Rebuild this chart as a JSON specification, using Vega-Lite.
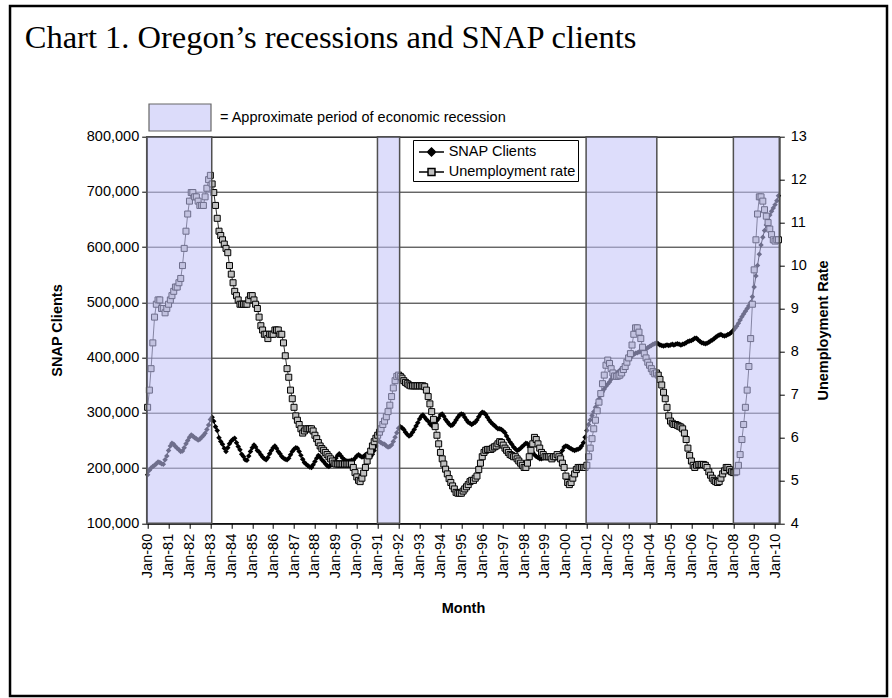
{
"$schema": "https://vega.github.io/schema/vega-lite/v6.json",
"width": 632.6,
"height": 386.6,
"autosize": {"type": "none"},
"padding": {"left": 146.7, "top": 136.7, "right": 112.7, "bottom": 174.7},
"background": "white",
"title": {"text": "Chart 1. Oregon’s recessions and SNAP clients", "font": "Liberation Serif", "fontSize": 32.5, "fontWeight": "normal", "color": "black", "anchor": "start", "frame": "group", "dx": -122, "dy": 50, "offset": 0},
"datasets": {
"m": [
{"d":"1980-01","s":188000,"u":6.7},{"d":"1980-02","s":196000,"u":7.1},{"d":"1980-03","s":200000,"u":7.6},{"d":"1980-04","s":203000,"u":8.2},{"d":"1980-05","s":205000,"u":8.8},{"d":"1980-06","s":208000,"u":9.1},{"d":"1980-07","s":211000,"u":9.2},{"d":"1980-08","s":210000,"u":9.2},{"d":"1980-09","s":208000,"u":9.0},{"d":"1980-10","s":207000,"u":9.0},{"d":"1980-11","s":215000,"u":8.9},{"d":"1980-12","s":222000,"u":9.0},
{"d":"1981-01","s":232000,"u":9.1},{"d":"1981-02","s":240000,"u":9.2},{"d":"1981-03","s":245000,"u":9.3},{"d":"1981-04","s":243000,"u":9.4},{"d":"1981-05","s":239000,"u":9.5},{"d":"1981-06","s":236000,"u":9.5},{"d":"1981-07","s":233000,"u":9.6},{"d":"1981-08","s":230000,"u":9.7},{"d":"1981-09","s":231000,"u":10.0},{"d":"1981-10","s":237000,"u":10.4},{"d":"1981-11","s":244000,"u":10.8},{"d":"1981-12","s":250000,"u":11.2},
{"d":"1982-01","s":256000,"u":11.5},{"d":"1982-02","s":260000,"u":11.7},{"d":"1982-03","s":258000,"u":11.7},{"d":"1982-04","s":255000,"u":11.6},{"d":"1982-05","s":253000,"u":11.6},{"d":"1982-06","s":251000,"u":11.5},{"d":"1982-07","s":252000,"u":11.4},{"d":"1982-08","s":256000,"u":11.4},{"d":"1982-09","s":259000,"u":11.4},{"d":"1982-10","s":263000,"u":11.6},{"d":"1982-11","s":270000,"u":11.8},{"d":"1982-12","s":278000,"u":12.0},
{"d":"1983-01","s":288000,"u":12.1},{"d":"1983-02","s":292000,"u":11.9},{"d":"1983-03","s":285000,"u":11.7},{"d":"1983-04","s":275000,"u":11.4},{"d":"1983-05","s":268000,"u":11.1},{"d":"1983-06","s":255000,"u":10.8},{"d":"1983-07","s":248000,"u":10.7},{"d":"1983-08","s":243000,"u":10.6},{"d":"1983-09","s":236000,"u":10.5},{"d":"1983-10","s":230000,"u":10.4},{"d":"1983-11","s":237000,"u":10.3},{"d":"1983-12","s":244000,"u":10.0},
{"d":"1984-01","s":249000,"u":9.8},{"d":"1984-02","s":252000,"u":9.6},{"d":"1984-03","s":254000,"u":9.4},{"d":"1984-04","s":246000,"u":9.3},{"d":"1984-05","s":239000,"u":9.2},{"d":"1984-06","s":233000,"u":9.1},{"d":"1984-07","s":225000,"u":9.1},{"d":"1984-08","s":221000,"u":9.1},{"d":"1984-09","s":215000,"u":9.1},{"d":"1984-10","s":214000,"u":9.1},{"d":"1984-11","s":222000,"u":9.2},{"d":"1984-12","s":230000,"u":9.3},
{"d":"1985-01","s":237000,"u":9.3},{"d":"1985-02","s":242000,"u":9.2},{"d":"1985-03","s":238000,"u":9.1},{"d":"1985-04","s":232000,"u":9.0},{"d":"1985-05","s":229000,"u":8.8},{"d":"1985-06","s":224000,"u":8.6},{"d":"1985-07","s":220000,"u":8.5},{"d":"1985-08","s":217000,"u":8.4},{"d":"1985-09","s":215000,"u":8.4},{"d":"1985-10","s":219000,"u":8.3},{"d":"1985-11","s":226000,"u":8.4},{"d":"1985-12","s":232000,"u":8.4},
{"d":"1986-01","s":237000,"u":8.4},{"d":"1986-02","s":240000,"u":8.5},{"d":"1986-03","s":236000,"u":8.5},{"d":"1986-04","s":230000,"u":8.5},{"d":"1986-05","s":226000,"u":8.4},{"d":"1986-06","s":221000,"u":8.4},{"d":"1986-07","s":218000,"u":8.2},{"d":"1986-08","s":216000,"u":7.9},{"d":"1986-09","s":215000,"u":7.6},{"d":"1986-10","s":218000,"u":7.4},{"d":"1986-11","s":224000,"u":7.1},{"d":"1986-12","s":230000,"u":6.9},
{"d":"1987-01","s":234000,"u":6.7},{"d":"1987-02","s":237000,"u":6.5},{"d":"1987-03","s":236000,"u":6.4},{"d":"1987-04","s":230000,"u":6.3},{"d":"1987-05","s":223000,"u":6.2},{"d":"1987-06","s":216000,"u":6.1},{"d":"1987-07","s":210000,"u":6.15},{"d":"1987-08","s":207000,"u":6.2},{"d":"1987-09","s":204000,"u":6.2},{"d":"1987-10","s":202000,"u":6.2},{"d":"1987-11","s":201000,"u":6.2},{"d":"1987-12","s":206000,"u":6.15},
{"d":"1988-01","s":212000,"u":6.05},{"d":"1988-02","s":218000,"u":5.97},{"d":"1988-03","s":223000,"u":5.88},{"d":"1988-04","s":220000,"u":5.8},{"d":"1988-05","s":215000,"u":5.74},{"d":"1988-06","s":212000,"u":5.7},{"d":"1988-07","s":208000,"u":5.65},{"d":"1988-08","s":204000,"u":5.6},{"d":"1988-09","s":203000,"u":5.55},{"d":"1988-10","s":205000,"u":5.5},{"d":"1988-11","s":207000,"u":5.45},{"d":"1988-12","s":212000,"u":5.4},
{"d":"1989-01","s":218000,"u":5.38},{"d":"1989-02","s":223000,"u":5.38},{"d":"1989-03","s":226000,"u":5.38},{"d":"1989-04","s":222000,"u":5.38},{"d":"1989-05","s":218000,"u":5.38},{"d":"1989-06","s":215000,"u":5.38},{"d":"1989-07","s":213000,"u":5.38},{"d":"1989-08","s":213000,"u":5.38},{"d":"1989-09","s":213000,"u":5.38},{"d":"1989-10","s":214000,"u":5.38},{"d":"1989-11","s":214000,"u":5.3},{"d":"1989-12","s":218000,"u":5.18},
{"d":"1990-01","s":222000,"u":5.08},{"d":"1990-02","s":224000,"u":5.0},{"d":"1990-03","s":222000,"u":4.97},{"d":"1990-04","s":220000,"u":5.05},{"d":"1990-05","s":221000,"u":5.17},{"d":"1990-06","s":224000,"u":5.3},{"d":"1990-07","s":226000,"u":5.45},{"d":"1990-08","s":224000,"u":5.57},{"d":"1990-09","s":221000,"u":5.68},{"d":"1990-10","s":225000,"u":5.8},{"d":"1990-11","s":232000,"u":5.9},{"d":"1990-12","s":240000,"u":5.98},
{"d":"1991-01","s":249000,"u":6.05},{"d":"1991-02","s":248000,"u":6.12},{"d":"1991-03","s":246000,"u":6.2},{"d":"1991-04","s":244000,"u":6.3},{"d":"1991-05","s":243000,"u":6.38},{"d":"1991-06","s":240000,"u":6.48},{"d":"1991-07","s":238000,"u":6.6},{"d":"1991-08","s":239000,"u":6.75},{"d":"1991-09","s":242000,"u":6.95},{"d":"1991-10","s":248000,"u":7.15},{"d":"1991-11","s":256000,"u":7.32},{"d":"1991-12","s":264000,"u":7.42},
{"d":"1992-01","s":272000,"u":7.45},{"d":"1992-02","s":275000,"u":7.42},{"d":"1992-03","s":273000,"u":7.38},{"d":"1992-04","s":270000,"u":7.32},{"d":"1992-05","s":265000,"u":7.28},{"d":"1992-06","s":261000,"u":7.25},{"d":"1992-07","s":258000,"u":7.22},{"d":"1992-08","s":260000,"u":7.2},{"d":"1992-09","s":265000,"u":7.2},{"d":"1992-10","s":270000,"u":7.2},{"d":"1992-11","s":276000,"u":7.2},{"d":"1992-12","s":282000,"u":7.2},
{"d":"1993-01","s":289000,"u":7.2},{"d":"1993-02","s":294000,"u":7.2},{"d":"1993-03","s":296000,"u":7.2},{"d":"1993-04","s":292000,"u":7.18},{"d":"1993-05","s":288000,"u":7.1},{"d":"1993-06","s":285000,"u":6.95},{"d":"1993-07","s":280000,"u":6.78},{"d":"1993-08","s":277000,"u":6.6},{"d":"1993-09","s":278000,"u":6.42},{"d":"1993-10","s":282000,"u":6.25},{"d":"1993-11","s":286000,"u":6.05},{"d":"1993-12","s":290000,"u":5.85},
{"d":"1994-01","s":296000,"u":5.65},{"d":"1994-02","s":298000,"u":5.5},{"d":"1994-03","s":294000,"u":5.38},{"d":"1994-04","s":288000,"u":5.26},{"d":"1994-05","s":284000,"u":5.15},{"d":"1994-06","s":280000,"u":5.04},{"d":"1994-07","s":277000,"u":4.95},{"d":"1994-08","s":278000,"u":4.87},{"d":"1994-09","s":282000,"u":4.8},{"d":"1994-10","s":287000,"u":4.72},{"d":"1994-11","s":292000,"u":4.7},{"d":"1994-12","s":296000,"u":4.7},
{"d":"1995-01","s":298000,"u":4.7},{"d":"1995-02","s":297000,"u":4.75},{"d":"1995-03","s":292000,"u":4.8},{"d":"1995-04","s":287000,"u":4.85},{"d":"1995-05","s":283000,"u":4.9},{"d":"1995-06","s":281000,"u":4.97},{"d":"1995-07","s":279000,"u":5.0},{"d":"1995-08","s":281000,"u":5.0},{"d":"1995-09","s":283000,"u":5.05},{"d":"1995-10","s":287000,"u":5.1},{"d":"1995-11","s":293000,"u":5.25},{"d":"1995-12","s":298000,"u":5.4},
{"d":"1996-01","s":301000,"u":5.55},{"d":"1996-02","s":300000,"u":5.65},{"d":"1996-03","s":297000,"u":5.7},{"d":"1996-04","s":292000,"u":5.72},{"d":"1996-05","s":287000,"u":5.72},{"d":"1996-06","s":283000,"u":5.72},{"d":"1996-07","s":280000,"u":5.75},{"d":"1996-08","s":277000,"u":5.78},{"d":"1996-09","s":274000,"u":5.8},{"d":"1996-10","s":271000,"u":5.85},{"d":"1996-11","s":271000,"u":5.9},{"d":"1996-12","s":270000,"u":5.88},
{"d":"1997-01","s":267000,"u":5.82},{"d":"1997-02","s":264000,"u":5.75},{"d":"1997-03","s":258000,"u":5.7},{"d":"1997-04","s":252000,"u":5.65},{"d":"1997-05","s":247000,"u":5.6},{"d":"1997-06","s":243000,"u":5.58},{"d":"1997-07","s":238000,"u":5.55},{"d":"1997-08","s":235000,"u":5.55},{"d":"1997-09","s":232000,"u":5.5},{"d":"1997-10","s":233000,"u":5.45},{"d":"1997-11","s":236000,"u":5.4},{"d":"1997-12","s":239000,"u":5.35},
{"d":"1998-01","s":242000,"u":5.3},{"d":"1998-02","s":245000,"u":5.3},{"d":"1998-03","s":244000,"u":5.4},{"d":"1998-04","s":238000,"u":5.55},{"d":"1998-05","s":233000,"u":5.7},{"d":"1998-06","s":228000,"u":5.85},{"d":"1998-07","s":224000,"u":6.0},{"d":"1998-08","s":221000,"u":5.95},{"d":"1998-09","s":219000,"u":5.85},{"d":"1998-10","s":217000,"u":5.75},{"d":"1998-11","s":217000,"u":5.65},{"d":"1998-12","s":218000,"u":5.6},
{"d":"1999-01","s":219000,"u":5.55},{"d":"1999-02","s":221000,"u":5.55},{"d":"1999-03","s":222000,"u":5.55},{"d":"1999-04","s":220000,"u":5.55},{"d":"1999-05","s":218000,"u":5.5},{"d":"1999-06","s":217000,"u":5.55},{"d":"1999-07","s":218000,"u":5.55},{"d":"1999-08","s":220000,"u":5.6},{"d":"1999-09","s":222000,"u":5.55},{"d":"1999-10","s":225000,"u":5.5},{"d":"1999-11","s":232000,"u":5.4},{"d":"1999-12","s":238000,"u":5.3},
{"d":"2000-01","s":240000,"u":5.1},{"d":"2000-02","s":239000,"u":4.95},{"d":"2000-03","s":237000,"u":4.9},{"d":"2000-04","s":235000,"u":4.95},{"d":"2000-05","s":233000,"u":5.05},{"d":"2000-06","s":232000,"u":5.15},{"d":"2000-07","s":233000,"u":5.25},{"d":"2000-08","s":234000,"u":5.3},{"d":"2000-09","s":236000,"u":5.3},{"d":"2000-10","s":240000,"u":5.3},{"d":"2000-11","s":246000,"u":5.3},{"d":"2000-12","s":256000,"u":5.3},
{"d":"2001-01","s":268000,"u":5.35},{"d":"2001-02","s":279000,"u":5.55},{"d":"2001-03","s":287000,"u":5.75},{"d":"2001-04","s":295000,"u":5.97},{"d":"2001-05","s":302000,"u":6.2},{"d":"2001-06","s":310000,"u":6.4},{"d":"2001-07","s":317000,"u":6.62},{"d":"2001-08","s":325000,"u":6.82},{"d":"2001-09","s":332000,"u":7.02},{"d":"2001-10","s":338000,"u":7.25},{"d":"2001-11","s":343000,"u":7.45},{"d":"2001-12","s":348000,"u":7.68},
{"d":"2002-01","s":352000,"u":7.8},{"d":"2002-02","s":356000,"u":7.72},{"d":"2002-03","s":361000,"u":7.6},{"d":"2002-04","s":366000,"u":7.5},{"d":"2002-05","s":369000,"u":7.43},{"d":"2002-06","s":372000,"u":7.42},{"d":"2002-07","s":374000,"u":7.43},{"d":"2002-08","s":377000,"u":7.45},{"d":"2002-09","s":380000,"u":7.5},{"d":"2002-10","s":383000,"u":7.58},{"d":"2002-11","s":387000,"u":7.65},{"d":"2002-12","s":391000,"u":7.75},
{"d":"2003-01","s":396000,"u":7.85},{"d":"2003-02","s":400000,"u":7.95},{"d":"2003-03","s":403000,"u":8.15},{"d":"2003-04","s":406000,"u":8.4},{"d":"2003-05","s":408000,"u":8.55},{"d":"2003-06","s":409000,"u":8.55},{"d":"2003-07","s":410000,"u":8.45},{"d":"2003-08","s":411000,"u":8.3},{"d":"2003-09","s":412000,"u":8.1},{"d":"2003-10","s":414000,"u":7.95},{"d":"2003-11","s":416000,"u":7.85},{"d":"2003-12","s":418000,"u":7.75},
{"d":"2004-01","s":420000,"u":7.68},{"d":"2004-02","s":422000,"u":7.6},{"d":"2004-03","s":424000,"u":7.53},{"d":"2004-04","s":425000,"u":7.48},{"d":"2004-05","s":427000,"u":7.5},{"d":"2004-06","s":425000,"u":7.45},{"d":"2004-07","s":423000,"u":7.35},{"d":"2004-08","s":422000,"u":7.22},{"d":"2004-09","s":421000,"u":7.05},{"d":"2004-10","s":422000,"u":6.9},{"d":"2004-11","s":423000,"u":6.7},{"d":"2004-12","s":422000,"u":6.5},
{"d":"2005-01","s":423000,"u":6.38},{"d":"2005-02","s":424000,"u":6.33},{"d":"2005-03","s":423000,"u":6.3},{"d":"2005-04","s":424000,"u":6.3},{"d":"2005-05","s":425000,"u":6.28},{"d":"2005-06","s":424000,"u":6.26},{"d":"2005-07","s":423000,"u":6.24},{"d":"2005-08","s":424000,"u":6.2},{"d":"2005-09","s":425000,"u":6.1},{"d":"2005-10","s":427000,"u":5.95},{"d":"2005-11","s":429000,"u":5.75},{"d":"2005-12","s":430000,"u":5.58},
{"d":"2006-01","s":431000,"u":5.45},{"d":"2006-02","s":433000,"u":5.35},{"d":"2006-03","s":435000,"u":5.3},{"d":"2006-04","s":435000,"u":5.35},{"d":"2006-05","s":432000,"u":5.37},{"d":"2006-06","s":429000,"u":5.37},{"d":"2006-07","s":427000,"u":5.37},{"d":"2006-08","s":426000,"u":5.37},{"d":"2006-09","s":425000,"u":5.35},{"d":"2006-10","s":426000,"u":5.3},{"d":"2006-11","s":428000,"u":5.2},{"d":"2006-12","s":430000,"u":5.12},
{"d":"2007-01","s":432000,"u":5.05},{"d":"2007-02","s":434000,"u":5.0},{"d":"2007-03","s":437000,"u":4.97},{"d":"2007-04","s":439000,"u":4.95},{"d":"2007-05","s":441000,"u":4.97},{"d":"2007-06","s":442000,"u":5.05},{"d":"2007-07","s":440000,"u":5.15},{"d":"2007-08","s":439000,"u":5.22},{"d":"2007-09","s":440000,"u":5.3},{"d":"2007-10","s":442000,"u":5.3},{"d":"2007-11","s":443000,"u":5.25},{"d":"2007-12","s":446000,"u":5.2},
{"d":"2008-01","s":449000,"u":5.18},{"d":"2008-02","s":453000,"u":5.18},{"d":"2008-03","s":457000,"u":5.2},{"d":"2008-04","s":462000,"u":5.35},{"d":"2008-05","s":468000,"u":5.6},{"d":"2008-06","s":474000,"u":5.95},{"d":"2008-07","s":479000,"u":6.3},{"d":"2008-08","s":484000,"u":6.7},{"d":"2008-09","s":489000,"u":7.1},{"d":"2008-10","s":494000,"u":7.65},{"d":"2008-11","s":500000,"u":8.3},{"d":"2008-12","s":510000,"u":9.1},
{"d":"2009-01","s":528000,"u":9.9},{"d":"2009-02","s":548000,"u":10.6},{"d":"2009-03","s":567000,"u":11.2},{"d":"2009-04","s":587000,"u":11.6},{"d":"2009-05","s":604000,"u":11.6},{"d":"2009-06","s":618000,"u":11.5},{"d":"2009-07","s":630000,"u":11.3},{"d":"2009-08","s":640000,"u":11.15},{"d":"2009-09","s":650000,"u":11.0},{"d":"2009-10","s":658000,"u":10.85},{"d":"2009-11","s":665000,"u":10.72},{"d":"2009-12","s":671000,"u":10.6},
{"d":"2010-01","s":677000,"u":10.57},{"d":"2010-02","s":684000,"u":10.6},{"d":"2010-03","s":693000,"u":10.6}
],
"bands": [
{"start":"1979-12-16","end":"1983-01-25"},
{"start":"1990-12-28","end":"1992-01-19"},
{"start":"2000-12-19","end":"2004-05-07"},
{"start":"2008-01-04","end":"2010-03-16"}
],
"ser": [{"series":"SNAP Clients"},{"series":"Unemployment rate"}]
},
"data": {"name": "m"},
"layer": [
{"layer": [
 {"data": {"values": [{}]},
  "mark": {"type": "rect", "filled": false, "stroke": "black", "strokeWidth": 2.5},
  "encoding": {
   "x": {"datum": {"year": 1973, "month": 6, "date": 3, "utc": true}, "type": "temporal", "title": "Month", "scale": {"type": "utc", "domain": [{"year":1979,"month":12,"date":16,"utc":true},{"year":2010,"month":3,"date":16,"utc":true}]}},
   "x2": {"datum": {"year": 2015, "month": 5, "date": 10, "utc": true}},
   "y": {"datum": 1036650, "type": "quantitative", "title": "SNAP Clients", "scale": {"domain": [100000, 800000], "nice": false, "zero": false}},
   "y2": {"datum": -212700}
  }},
 {"mark": {"type": "line", "color": "black", "strokeWidth": 1},
  "encoding": {
   "x": {"field": "d", "type": "temporal", "title": "Month", "scale": {"type": "utc", "domain": [{"year":1979,"month":12,"date":16,"utc":true},{"year":2010,"month":3,"date":16,"utc":true}]},
     "axis": {"format": "%b-%y", "labelAngle": 270, "tickCount": {"interval": "year", "step": 1}, "labelPadding": 5, "tickSize": 5, "titlePadding": 24, "grid": false}},
   "y": {"field": "s", "type": "quantitative", "title": "SNAP Clients", "scale": {"domain": [100000, 800000], "nice": false, "zero": false},
     "axis": {"orient": "left", "format": ",d", "values": [100000,200000,300000,400000,500000,600000,700000,800000], "grid": true, "gridColor": "#222222", "gridWidth": 1, "labelPadding": 3, "titlePadding": 22, "tickSize": 5}}
  }},
 {"mark": {"type": "point", "shape": "diamond", "filled": true, "color": "black", "size": 30, "opacity": 1},
  "encoding": {
   "x": {"field": "d", "type": "temporal", "title": "Month", "scale": {"type": "utc", "domain": [{"year":1979,"month":12,"date":16,"utc":true},{"year":2010,"month":3,"date":16,"utc":true}]}},
   "y": {"field": "s", "type": "quantitative", "title": "SNAP Clients", "scale": {"domain": [100000, 800000], "nice": false, "zero": false}}
  }}
]},
{"layer": [
 {"mark": {"type": "line", "color": "black", "strokeWidth": 0.8},
  "encoding": {
   "x": {"field": "d", "type": "temporal", "title": "Month", "scale": {"type": "utc", "domain": [{"year":1979,"month":12,"date":16,"utc":true},{"year":2010,"month":3,"date":16,"utc":true}]}},
   "y": {"field": "u", "type": "quantitative", "title": "Unemployment Rate", "scale": {"domain": [4, 13], "nice": false, "zero": false},
     "axis": {"orient": "right", "values": [4,5,6,7,8,9,10,11,12,13], "grid": false, "titleAngle": 270, "labelPadding": 6, "titlePadding": 24, "tickSize": 5}}
  }},
 {"mark": {"type": "point", "shape": "square", "filled": true, "fill": "#c0c0c0", "stroke": "black", "strokeWidth": 1, "size": 36, "opacity": 1},
  "encoding": {
   "x": {"field": "d", "type": "temporal", "title": "Month", "scale": {"type": "utc", "domain": [{"year":1979,"month":12,"date":16,"utc":true},{"year":2010,"month":3,"date":16,"utc":true}]}},
   "y": {"field": "u", "type": "quantitative", "title": "Unemployment Rate", "scale": {"domain": [4, 13], "nice": false, "zero": false}}
  }}
]},
{"data": {"name": "bands"},
 "mark": {"type": "rect", "fill": "#c3c3f8", "fillOpacity": 0.565, "stroke": "#505050", "strokeWidth": 1.5, "strokeOpacity": 1},
 "encoding": {
  "x": {"field": "start", "type": "temporal", "title": "Month", "scale": {"type": "utc", "domain": [{"year":1979,"month":12,"date":16,"utc":true},{"year":2010,"month":3,"date":16,"utc":true}]}},
  "x2": {"field": "end"}
 }},
{"data": {"name": "ser"},
 "transform": [{"filter": "datum.series == 'none'"}],
 "mark": {"type": "point", "filled": true, "opacity": 1, "stroke": "#666666", "strokeWidth": 1.2},
 "encoding": {
  "color": {"datum": "= Approximate period of economic recession", "type": "nominal", "scale": {"range": ["#dcdcfa"]},
    "legend": {"orient": "none", "legendX": 1.3, "legendY": -51.2, "title": null, "symbolType": "M-1,-0.435H1V0.435H-1Z", "symbolSize": 3844, "labelFontSize": 14.5, "labelOffset": 8, "labelLimit": 500, "padding": 0, "labelFont": "Liberation Sans", "labelColor": "black", "symbolStrokeColor": "#666666", "symbolStrokeWidth": 1.2,
      "encode": {"symbols": {"update": {"fill": {"value": "#dcdcfa"}, "fillOpacity": {"value": 1}, "opacity": {"value": 1}, "stroke": {"value": "#666666"}, "strokeWidth": {"value": 1.2}}}}}}
 }},
{"data": {"name": "ser"},
 "transform": [{"filter": "datum.series == 'none'"}],
 "mark": {"type": "point", "filled": true, "stroke": "black", "strokeWidth": 1, "opacity": 1},
 "encoding": {
  "shape": {"field": "series", "type": "nominal", "scale": {"domain": ["SNAP Clients", "Unemployment rate"], "range": ["M-0.706,0H2.235M0.765,-0.47L1.235,0L0.765,0.47L0.295,0Z", "M-0.706,0H0.355M1.175,0H2.235M0.355,-0.41H1.175V0.41H0.355Z"]},
    "legend": {"orient": "none", "legendX": 266.3, "legendY": 3.3, "title": null, "strokeColor": "black", "fillColor": "white", "padding": 2.5, "symbolSize": 289, "labelFontSize": 14.5, "labelOffset": 14.2, "rowPadding": 3, "labelFont": "Liberation Sans", "labelColor": "black",
      "encode": {"symbols": {"update": {"stroke": {"value": "black"}, "strokeWidth": {"value": 1}, "opacity": {"value": 1}, "fillOpacity": {"value": 1}}}}}},
  "fill": {"field": "series", "type": "nominal", "scale": {"domain": ["SNAP Clients", "Unemployment rate"], "range": ["#000000", "#c0c0c0"]},
    "legend": {"orient": "none", "legendX": 266.3, "legendY": 3.3, "title": null, "strokeColor": "black", "fillColor": "white", "padding": 2.5, "symbolSize": 289, "labelFontSize": 14.5, "labelOffset": 14.2, "rowPadding": 3, "labelFont": "Liberation Sans", "labelColor": "black",
      "encode": {"symbols": {"update": {"stroke": {"value": "black"}, "strokeWidth": {"value": 1}, "opacity": {"value": 1}, "fillOpacity": {"value": 1}}}}}}
 }}
],
"resolve": {"scale": {"y": "independent"}},
"config": {
 "font": "Liberation Sans",
 "view": {"stroke": "#000000", "strokeWidth": 1},
 "axis": {"labelFont": "Liberation Sans", "labelFontSize": 14.5, "labelColor": "black", "titleFont": "Liberation Sans", "titleFontSize": 14.5, "titleFontWeight": "bold", "titleColor": "black", "domainColor": "#000000", "tickColor": "#000000", "domainWidth": 1}
}
}
